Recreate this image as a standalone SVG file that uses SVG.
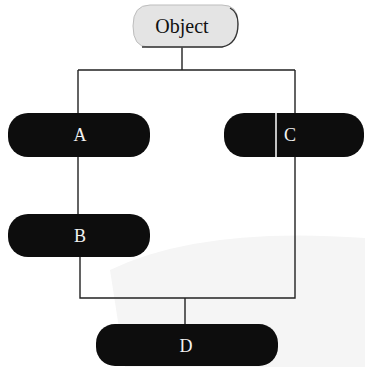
<svg xmlns="http://www.w3.org/2000/svg" width="365" height="367" viewBox="0 0 365 367">
<style>
.dark{fill:#0d0d0d}
.lbl{font-family:"Liberation Serif","Times New Roman",serif;font-size:18px;fill:#f2f2f2;text-anchor:middle;dominant-baseline:central}
.conn{stroke:#222;stroke-width:1.4;fill:none}
</style>
<rect width="365" height="367" fill="#fff"/>
<path d="M110,270 Q200,226 365,238 L365,367 L125,367 Z" fill="#f5f5f5"/>
<g id="connectors">
<path class="conn" d="M182,47 V70 M78,70 H295 M78,70 V113 M295,70 V113 M78,157 V214 M80,257 V298 H295 V157 M185,298 V324"/>
</g>
<g id="Object">
<path d="M150,5 H222 Q238,5 238,22 Q238,44 222,47 H148 Q133,47 133,26 Q133,5 150,5 Z" fill="#e4e4e4" stroke="#bdbdbd" stroke-width="1"/>
<path d="M230,8 Q238,12 238,24 Q238,44 222,47 H142" fill="none" stroke="#333" stroke-width="1.3"/>
<text x="182" y="26" class="lbl" style="fill:#111;font-size:20px">Object</text>
</g>
<g id="A">
<rect x="8" y="113" width="142" height="44" rx="20" class="dark"/>
<text x="80" y="135" class="lbl">A</text>
</g>
<g id="C">
<rect x="224" y="113" width="140" height="44" rx="20" class="dark"/>
<line x1="276" y1="113" x2="276" y2="157" stroke="#fff" stroke-width="1.5"/>
<text x="290" y="135" class="lbl">C</text>
</g>
<g id="B">
<rect x="8" y="214" width="142" height="43" rx="20" class="dark"/>
<text x="80" y="236" class="lbl">B</text>
</g>
<g id="D">
<rect x="96" y="324" width="182" height="42" rx="19" class="dark"/>
<text x="186" y="346" class="lbl">D</text>
</g>
</svg>
